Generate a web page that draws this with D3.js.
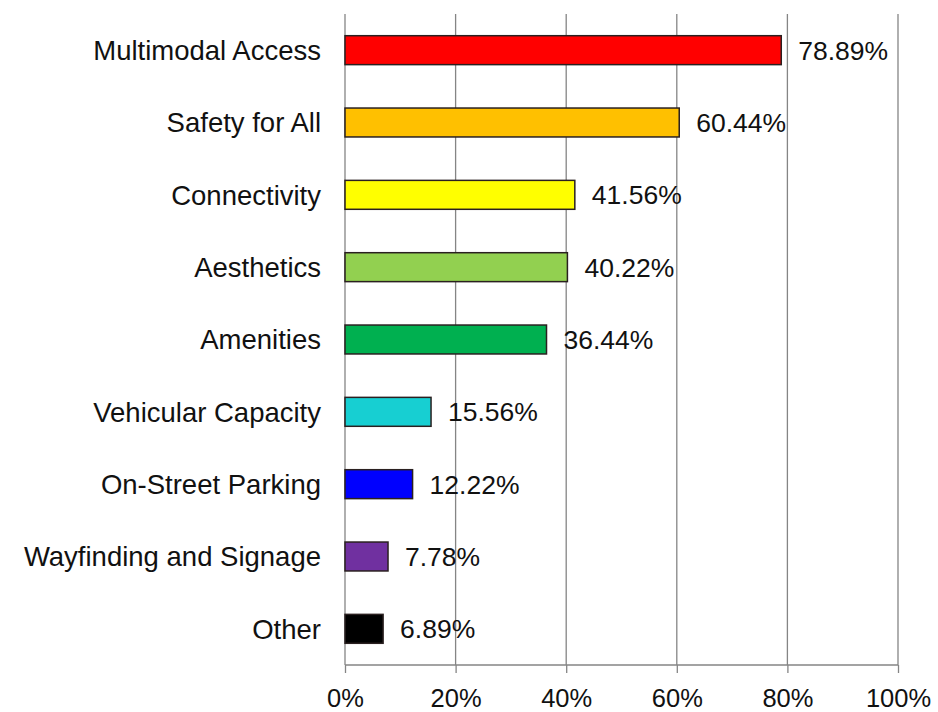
<!DOCTYPE html>
<html>
<head>
<meta charset="utf-8">
<script src="https://cdn.jsdelivr.net/npm/d3@7"></script>
<style>
body { margin: 0; background: #fff; }
svg text { font-family: "Liberation Sans", Arial, sans-serif; fill: #111; }
</style>
</head>
<body>
<script>
// category list, top to bottom
var categories = ["Multimodal Access", "Safety for All", "Connectivity", "Aesthetics", "Amenities",
    "Vehicular Capacity", "On-Street Parking", "Wayfinding and Signage", "Other"];
var values = [78.89, 60.44, 41.56, 40.22, 36.44, 15.56, 12.22, 7.78, 6.89];
var barColors = ["#ff0000", "#ffc000", "#ffff00", "#92d050", "#00b050", "#17cfd2", "#0000ff", "#7030a0", "#000000"];
var tickValues = [0, 20, 40, 60, 80, 100];

var svg = d3.select("body").append("svg").attr("width", 938).attr("height", 712);

var x = d3.scaleLinear().domain([0, 100]).range([345, 898]);
var y = d3.scaleBand().domain(categories).range([14, 665]).paddingInner(0.6).paddingOuter(0.3);

var catSize = 27.5, valSize = 26.5;
// put the cap middle on the bar middle
function baseY(cy, size) { return cy + 0.716 * size / 2; }

// vertical gridlines
svg.selectAll(".grid").data(tickValues.slice(1)).enter().append("line")
    .attr("x1", d => x(d)).attr("x2", d => x(d))
    .attr("y1", 14).attr("y2", 665)
    .style("stroke", "#858585").style("stroke-width", 1.3);

// y axis line
svg.append("line").attr("x1", x(0)).attr("x2", x(0)).attr("y1", 14).attr("y2", 665)
    .style("stroke", "#858585").style("stroke-width", 1.3);

// x axis
var xAxis = d3.axisBottom(x).tickValues(tickValues).tickFormat(d => d + "%").tickSize(8).tickPadding(6);
var gx = svg.append("g").attr("transform", "translate(0,665)").call(xAxis);
gx.select(".domain").style("stroke", "#858585").style("stroke-width", 1.3).attr("d", "M" + x(0) + ",0H" + x(100));
gx.selectAll(".tick line").style("stroke", "#858585").style("stroke-width", 1.3);
gx.selectAll(".tick text").style("font-size", "25.5px").style("fill", "#111").attr("y", 42).attr("dy", 0);

// bars
svg.selectAll(".bar").data(values).enter().append("rect")
    .attr("x", x(0))
    .attr("y", (d, i) => y(categories[i]))
    .attr("width", d => x(d) - x(0))
    .attr("height", y.bandwidth())
    .style("fill", (d, i) => barColors[i])
    .style("stroke", "#2a2020").style("stroke-width", 1.5);

// category labels
svg.selectAll(".cat").data(categories).enter().append("text")
    .attr("x", 321)
    .attr("y", d => baseY(y(d) + y.bandwidth() / 2, catSize))
    .attr("text-anchor", "end")
    .style("font-size", catSize + "px")
    .text(d => d);

// value labels
svg.selectAll(".val").data(values).enter().append("text")
    .attr("x", d => x(d) + 17)
    .attr("y", (d, i) => baseY(y(categories[i]) + y.bandwidth() / 2, valSize))
    .style("font-size", valSize + "px")
    .text(d => d.toFixed(2) + "%");
</script>
</body>
</html>
